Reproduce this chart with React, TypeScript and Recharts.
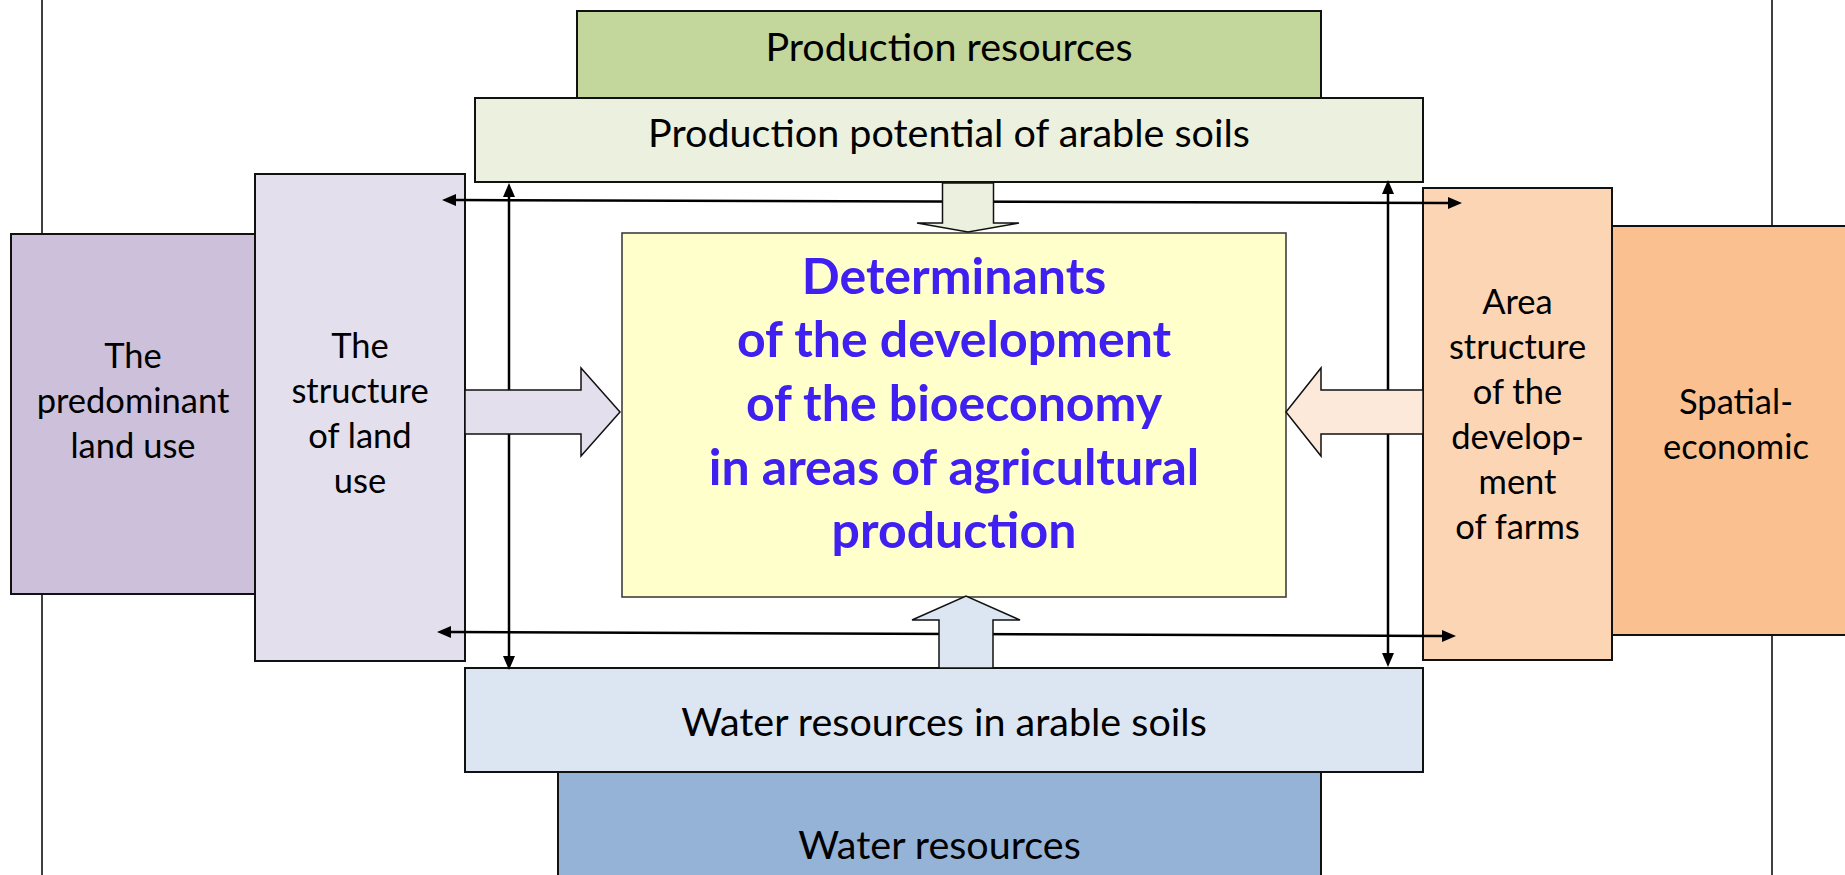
import { ComposedChart, ReferenceArea, ReferenceLine, Scatter, XAxis, YAxis } from 'recharts'

// boxes of the scheme, drawn back to front
const boxLabels = [
  ['Production resources'],
  ['Production potential of arable soils'],
  ['The', 'predominant', 'land use'],
  ['The', 'structure', 'of land', 'use'],
  ['Determinants', 'of the development', 'of the bioeconomy', 'in areas of agricultural', 'production'],
  ['Area', 'structure', 'of the', 'develop-', 'ment', 'of farms'],
  ['Spatial-', 'economic'],
  ['Water resources in arable soils'],
  ['Water resources'],
]
const boxLeft = [577, 475, 11, 255, 622, 1423, 1612, 465, 558]
const boxRight = [1321, 1423, 255, 465, 1286, 1612, 1860, 1423, 1321]
const boxTop = [11, 98, 234, 174, 233, 188, 226, 668, 772]
const boxBottom = [98, 182, 594, 661, 597, 660, 635, 772, 922]

// thin double-headed links
const linkX1 = [509, 1388, 442, 437]
const linkY1 = [183, 180, 200, 632]
const linkX2 = [509, 1388, 1462, 1456]
const linkY2 = [670, 667, 203, 636]

// wide block arrows into the centre box
const flowDir = ['down', 'up', 'right', 'left']
const flowLeft = [917, 912, 465, 1286]
const flowRight = [1019, 1020, 620, 1423]
const flowTop = [183, 596, 368, 368]
const flowBottom = [232, 668, 456, 456]

// page frame lines
const frameX = [42, 1772]

const boxFill = ['#c3d69b', '#ebf1de', '#ccc0da', '#e4dfec', '#ffffcc', '#fcd5b5', '#fac090', '#dce6f2', '#95b3d7']
const boxFontSize = [39.5, 39.5, 34.5, 34.5, 50, 34.5, 34.5, 39.5, 39.5]
const textNudge = [0, 1, -7, 2, 0, -4, 0, 10, 6]
const flowFill = ['#ebf1de', '#dce6f2', '#e4dfec', '#fde9d9']
const flowHead = [9, 24, 39, 35]

const W = 1845
const H = 875
const FONT = 'Lato, "Open Sans", sans-serif'

const labelPoints = boxLabels.map((lines, i) => ({
  x: (boxLeft[i] + boxRight[i]) / 2,
  y: (boxTop[i] + boxBottom[i]) / 2,
  lines,
  idx: i,
}))

function boxShape(fill: string, main: boolean) {
  return (p: any) => (
    <rect
      x={p.x}
      y={p.y}
      width={p.width}
      height={p.height}
      fill={fill}
      stroke={main ? '#333' : '#111'}
      strokeWidth={main ? 1.5 : 2}
    />
  )
}

function flowShape(dir: string, fill: string, hd: number) {
  return (p: any) => {
    const { x, y, width: w, height: h } = p
    let pts: number[][] = []
    if (dir === 'right') {
      pts = [[x, y + h * 0.25], [x + w - hd, y + h * 0.25], [x + w - hd, y], [x + w, y + h / 2], [x + w - hd, y + h], [x + w - hd, y + h * 0.75], [x, y + h * 0.75]]
    } else if (dir === 'left') {
      pts = [[x + w, y + h * 0.25], [x + hd, y + h * 0.25], [x + hd, y], [x, y + h / 2], [x + hd, y + h], [x + hd, y + h * 0.75], [x + w, y + h * 0.75]]
    } else if (dir === 'down') {
      pts = [[x + w * 0.25, y], [x + w * 0.75, y], [x + w * 0.75, y + h - hd], [x + w, y + h - hd], [x + w / 2, y + h], [x, y + h - hd], [x + w * 0.25, y + h - hd]]
    } else {
      pts = [[x + w * 0.25, y + h], [x + w * 0.75, y + h], [x + w * 0.75, y + hd], [x + w, y + hd], [x + w / 2, y], [x, y + hd], [x + w * 0.25, y + hd]]
    }
    return <polygon points={pts.map((q) => q.join(',')).join(' ')} fill={fill} stroke="#111" strokeWidth={1.5} />
  }
}

function linkShape(p: any) {
  const { x1, y1, x2, y2 } = p
  const len = Math.hypot(x2 - x1, y2 - y1) || 1
  const ux = (x2 - x1) / len
  const uy = (y2 - y1) / len
  const al = 14
  const aw = 6
  const head = (tx: number, ty: number, dx: number, dy: number) => {
    const bx = tx - dx * al
    const by = ty - dy * al
    return `${tx},${ty} ${bx - dy * aw},${by + dx * aw} ${bx + dy * aw},${by - dx * aw}`
  }
  return (
    <g>
      <line x1={x1 + ux * al} y1={y1 + uy * al} x2={x2 - ux * al} y2={y2 - uy * al} stroke="#000" strokeWidth={2.5} />
      <polygon points={head(x2, y2, ux, uy)} fill="#000" />
      <polygon points={head(x1, y1, -ux, -uy)} fill="#000" />
    </g>
  )
}

function LabelShape(p: any) {
  const { cx, cy, payload } = p
  const lines: string[] = payload.lines
  const i: number = payload.idx
  const main = i === 4
  const lh = main ? 63.7 : 45
  const first = cy - ((lines.length - 1) / 2) * lh + 6 + textNudge[i]
  return (
    <text
      x={cx}
      textAnchor="middle"
      fontFamily={FONT}
      fontSize={boxFontSize[i]}
      fontWeight={main ? 700 : 400}
      fill={main ? '#4020f0' : '#000'}
    >
      {lines.map((t, k) => (
        <tspan key={k} x={cx} y={first + k * lh}>
          {t}
        </tspan>
      ))}
    </text>
  )
}

export default function App() {
  return (
    <div style={{ position: 'fixed', left: 0, top: 0, width: W, height: H, background: '#fff' }}>
      <ComposedChart width={W} height={H} margin={{ top: 0, right: 0, bottom: 0, left: 0 }}>
        <XAxis type="number" dataKey="x" domain={[0, W]} hide allowDataOverflow />
        <YAxis type="number" dataKey="y" domain={[0, H]} reversed hide allowDataOverflow />
        {frameX.map((x, i) => (
          <ReferenceLine key={`f${i}`} x={x} stroke="#000" strokeWidth={1.5} ifOverflow="visible" zIndex={1} />
        ))}
        {boxLabels.map((_, i) => (
          <ReferenceArea
            key={`b${i}`}
            x1={boxLeft[i]}
            x2={boxRight[i]}
            y1={boxTop[i]}
            y2={boxBottom[i]}
            ifOverflow="visible"
            zIndex={10 + i}
            shape={boxShape(boxFill[i], i === 4)}
          />
        ))}
        {linkX1.map((_, i) => (
          <ReferenceLine
            key={`l${i}`}
            segment={[
              { x: linkX1[i], y: linkY1[i] },
              { x: linkX2[i], y: linkY2[i] },
            ]}
            ifOverflow="visible"
            zIndex={40}
            shape={linkShape}
          />
        ))}
        {flowDir.map((d, i) => (
          <ReferenceArea
            key={`a${i}`}
            x1={flowLeft[i]}
            x2={flowRight[i]}
            y1={flowTop[i]}
            y2={flowBottom[i]}
            ifOverflow="visible"
            zIndex={50}
            shape={flowShape(d, flowFill[i], flowHead[i])}
          />
        ))}
        <Scatter data={labelPoints} shape={LabelShape} isAnimationActive={false} zIndex={60} />
      </ComposedChart>
    </div>
  )
}
